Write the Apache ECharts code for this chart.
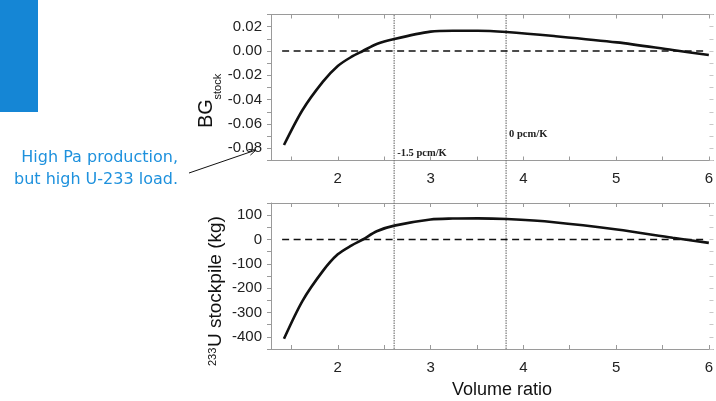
<!DOCTYPE html>
<html>
<head>
<meta charset="utf-8">
<script src="https://cdn.jsdelivr.net/npm/echarts@6/dist/echarts.min.js"></script>
<style>
  html, body { margin: 0; padding: 0; background: #ffffff; }
  #chart { width: 716px; height: 401px; }
</style>
</head>
<body>
<div id="chart"></div>
<script>
// ---- data ----
const volumeRatio = [1.42, 1.62, 1.84, 2.0, 2.15, 2.27, 2.42, 2.61, 3.0, 3.24, 3.51, 3.82, 4.33, 5.01, 5.61, 6.0];
const bgStock     = [-0.0773, -0.0485, -0.0252, -0.0123, -0.0047, 0.0, 0.0058, 0.0099, 0.0159, 0.0167, 0.0167, 0.0156, 0.0123, 0.0071, 0.0008, -0.0033];
const u233Stock   = [-408, -252, -129, -61, -24, 0, 34, 57, 82, 86, 87, 84, 71, 41, 7, -14];
const xTickValues  = [1.5, 2, 2.5, 3, 3.5, 4, 4.5, 5, 5.5, 6];
const xLabelValues = [2, 3, 4, 5, 6];
const bgLabelValues = [-0.08, -0.06, -0.04, -0.02, 0.0, 0.02];
const uLabelValues  = [-400, -300, -200, -100, 0, 100];
const zeroLineSpan = [1.4, 5.96];
const coefLines = [2.6, 3.8];
const coefLabels = ['-1.5 pcm/K', '0 pcm/K'];
const xName = 'Volume ratio';
const annotationLines = ['High Pa production,', 'but high U-233 load.'];

const FONT = '"Liberation Sans", Arial, sans-serif';
const AXIS_GREY = '#9a9a9a';
const X_MIN = 1.28, X_MAX = 6.05;

function bottomX(gridIndex) {
  return {
    type: 'value', gridIndex: gridIndex, min: X_MIN, max: X_MAX, position: 'bottom',
    axisLine: { show: true, onZero: false, lineStyle: { color: AXIS_GREY, width: 1 } },
    axisTick: { show: true, inside: true, length: 4, customValues: xTickValues, lineStyle: { color: AXIS_GREY } },
    axisLabel: { show: true, customValues: xLabelValues, margin: 11, color: '#222', fontSize: 15, fontFamily: FONT,
                 formatter: v => String(Math.round(v)) },
    splitLine: { show: false }
  };
}
function topX(gridIndex) {
  return {
    type: 'value', gridIndex: gridIndex, min: X_MIN, max: X_MAX, position: 'top',
    axisLine: { show: true, onZero: false, lineStyle: { color: AXIS_GREY, width: 1 } },
    axisTick: { show: true, inside: true, length: 4, customValues: xTickValues, lineStyle: { color: AXIS_GREY } },
    axisLabel: { show: false }, splitLine: { show: false }
  };
}
function leftY(gridIndex, min, max, interval, labels, fmt) {
  return {
    type: 'value', gridIndex: gridIndex, min: min, max: max, interval: interval, position: 'left',
    axisLine: { show: true, onZero: false, lineStyle: { color: AXIS_GREY, width: 1 } },
    axisTick: { show: true, inside: false, length: 4, lineStyle: { color: AXIS_GREY } },
    axisLabel: { show: true, customValues: labels, margin: 9, color: '#222', fontSize: 15, fontFamily: FONT, formatter: fmt },
    splitLine: { show: false }
  };
}
function rightY(gridIndex, min, max, interval) {
  return {
    type: 'value', gridIndex: gridIndex, min: min, max: max, interval: interval, position: 'right',
    axisLine: { show: false, onZero: false },
    axisTick: { show: true, inside: true, length: 4, lineStyle: { color: '#c8c8c8' } },
    axisLabel: { show: false }, splitLine: { show: false }
  };
}

const chart = echarts.init(document.getElementById('chart'), null, { renderer: 'canvas' });

const option = {
  animation: false,
  backgroundColor: '#ffffff',
  grid: [
    { left: 271, right: 0, top: 14.5, bottom: 240.5, show: false },
    { left: 271, right: 0, top: 203, bottom: 52, show: false },
    { left: 271, right: 0, top: 14.5, bottom: 52, show: false }
  ],
  xAxis: [
    bottomX(0), topX(0), bottomX(1), topX(1),
    { type: 'value', gridIndex: 2, min: X_MIN, max: X_MAX, show: false }
  ],
  yAxis: [
    leftY(0, -0.09, 0.03, 0.01, bgLabelValues, v => v.toFixed(2)),
    rightY(0, -0.09, 0.03, 0.01),
    leftY(1, -450, 150, 50, uLabelValues, v => String(Math.round(v))),
    rightY(1, -450, 150, 50),
    { type: 'value', gridIndex: 2, min: 0, max: 1, show: false }
  ],
  series: [
    // vertical dotted reference lines spanning both panels
    ...coefLines.map(x => ({
      type: 'line', xAxisIndex: 4, yAxisIndex: 4, symbol: 'none', silent: true,
      data: [[x, 0], [x, 1]],
      lineStyle: { color: '#777', width: 1.2, type: [1.5, 1] }
    })),
    {
      type: 'line', xAxisIndex: 0, yAxisIndex: 0, symbol: 'none', silent: true,
      data: zeroLineSpan.map(x => [x, 0]),
      lineStyle: { color: '#111', width: 1.5, type: [7, 4.5] }
    },
    {
      type: 'line', xAxisIndex: 2, yAxisIndex: 2, symbol: 'none', silent: true,
      data: zeroLineSpan.map(x => [x, 0]),
      lineStyle: { color: '#111', width: 1.5, type: [7, 4.5] }
    },
    {
      type: 'line', xAxisIndex: 0, yAxisIndex: 0, symbol: 'none', smooth: 0.3,
      data: volumeRatio.map((x, i) => [x, bgStock[i]]),
      lineStyle: { color: '#111', width: 2.6 }
    },
    {
      type: 'line', xAxisIndex: 2, yAxisIndex: 2, symbol: 'none', smooth: 0.3,
      data: volumeRatio.map((x, i) => [x, u233Stock[i]]),
      lineStyle: { color: '#111', width: 2.6 }
    }
  ]
};
chart.setOption(option);

// ---- text / decorations ----
const g = [];
g.push({ type: 'rect', shape: { x: 0, y: 0, width: 38, height: 112 }, style: { fill: '#1586d5' }, silent: true });

annotationLines.forEach((t, i) => {
  g.push({ type: 'text', x: 178, y: 158 + i * 21.5, silent: true,
    style: { text: t, font: '16px "DejaVu Sans", Verdana, sans-serif', fill: '#1e91dd',
             textAlign: 'right', textVerticalAlign: 'middle', align: 'right', verticalAlign: 'middle' } });
});

// arrow
g.push({ type: 'line', shape: { x1: 189, y1: 173, x2: 256, y2: 150 }, style: { stroke: '#111', lineWidth: 1 }, silent: true });
g.push({ type: 'polyline', shape: { points: [[250.4, 155.1], [256, 150], [248.4, 149.5]] }, style: { stroke: '#111', lineWidth: 1, fill: null }, silent: true });

// y axis names (rotated)
g.push({ type: 'group', x: 213, y: 128, rotation: Math.PI / 2, silent: true, children: [
  { type: 'text', x: 0, y: 3, style: { text: 'BG', font: '20px ' + FONT, fill: '#111', textVerticalAlign: 'bottom', verticalAlign: 'bottom' } },
  { type: 'text', x: 28.5, y: -1, style: { text: 'stock', font: '11px ' + FONT, fill: '#111', textVerticalAlign: 'top', verticalAlign: 'top' } }
]});
g.push({ type: 'group', x: 222, y: 366, rotation: Math.PI / 2, silent: true, children: [
  { type: 'text', x: 0, y: -14.5, style: { text: '233', font: '11px ' + FONT, fill: '#111', textVerticalAlign: 'top', verticalAlign: 'top' } },
  { type: 'text', x: 19, y: 3, style: { text: 'U stockpile (kg)', font: '19px ' + FONT, fill: '#111', textVerticalAlign: 'bottom', verticalAlign: 'bottom' } }
]});

// x axis name
g.push({ type: 'text', x: 502, y: 390, silent: true,
  style: { text: xName, font: '18px ' + FONT, fill: '#111', textAlign: 'center', textVerticalAlign: 'middle', align: 'center', verticalAlign: 'middle' } });

// coefficient labels next to the dotted lines
const coefLabelY = [153, 134];
coefLines.forEach((x, i) => {
  const px = chart.convertToPixel({ xAxisIndex: 4 }, x);
  g.push({ type: 'text', x: px + 3, y: coefLabelY[i], silent: true,
    style: { text: coefLabels[i], font: 'bold 10.5px "Liberation Serif", "Times New Roman", serif', fill: '#222',
             textVerticalAlign: 'middle', verticalAlign: 'middle' } });
});

chart.setOption({ graphic: { elements: g } });
</script>
</body>
</html>
